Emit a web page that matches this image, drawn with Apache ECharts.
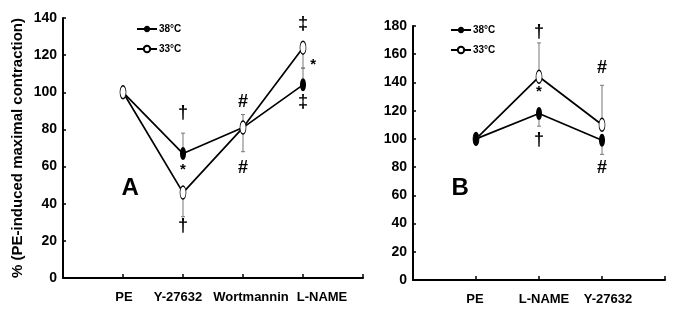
<!DOCTYPE html>
<html>
<head>
<meta charset="utf-8">
<script src="https://cdn.jsdelivr.net/npm/echarts@6/dist/echarts.min.js"></script>
<style>
  html, body { margin: 0; padding: 0; background: #fff; }
  #main { width: 676px; height: 311px; }
</style>
</head>
<body>
<div id="main"></div>
<script>
// panel A
var catsA = ['PE', 'Y-27632', 'Wortmannin', 'L-NAME'];
var hotA = [100, 67, 81, 104];    // 38°C
var coldA = [100, 46, 81, 124];   // 33°C
// [x, mean, tip]
var errA = [[2, 67, 78], [2, 46, 33], [3, 81, 88], [3, 81, 68], [4, 124, 113], [4, 104, 113]];
// [x, y, text]
var notesA = [[2, 89, '†'], [2, 58, '*'], [2, 28, '†'], [3, 95, '#'], [3, 59, '#'],
              [4, 137, '‡'], [4.17, 115, '*'], [4, 95, '‡']];

// panel B
var catsB = ['PE', 'L-NAME', 'Y-27632'];
var hotB = [100, 118, 99];
var coldB = [100, 144, 110];
var errB = [[2, 144, 168], [2, 118, 109], [3, 110, 138], [3, 99, 89]];
var notesB = [[2, 176, '†'], [2, 133, '*'], [2, 99, '†'], [3, 150, '#'], [3, 79, '#']];

var ticksA = [0, 20, 40, 60, 80, 100, 120, 140];
var ticksB = [0, 20, 40, 60, 80, 100, 120, 140, 160, 180];

// label nudges (px) so the category names sit like the original
var shiftA = [1, -5, 8, 19];
var shiftB = [-1, 5, 6];

var font = 'Liberation Sans, Arial, sans-serif';
var ellipse = 'path://M0,-6C1.93,-6 3.5,-3.31 3.5,0C3.5,3.31 1.93,6 0,6C-1.93,6 -3.5,3.31 -3.5,0C-3.5,-3.31 -1.93,-6 0,-6Z';

function pts(vals) {
    return vals.map(function (v, i) { return [i + 1, v]; });
}

function xAxisFor(idx, cats, shifts, max) {
    var rich = {};
    shifts.forEach(function (s, i) {
        rich['s' + i] = {
            fontWeight: 'bold', fontSize: 13, fontFamily: font, color: '#000',
            padding: s > 0 ? [0, 0, 0, 2 * s] : [0, -2 * s, 0, 0]
        };
    });
    return {
        gridIndex: idx, type: 'value', min: 0, max: max, interval: 1,
        axisLine: { lineStyle: { color: '#000', width: 2 } },
        axisTick: { inside: true, length: 4, lineStyle: { color: '#000', width: 1.5 } },
        splitLine: { show: false },
        axisLabel: {
            margin: 13, color: '#000', fontWeight: 'bold', fontSize: 13, fontFamily: font,
            formatter: function (v) { return cats[v - 1] ? '{s' + (v - 1) + '|' + cats[v - 1] + '}' : ''; },
            rich: rich
        }
    };
}

function yAxisFor(idx, ticks, withName) {
    var ax = {
        gridIndex: idx, type: 'value', min: 0, max: ticks[ticks.length - 1], interval: 20,
        axisLine: { show: true, lineStyle: { color: '#000', width: 2 } },
        axisTick: { show: true, inside: true, length: 3, lineStyle: { color: '#000', width: 1.5 } },
        splitLine: { show: false },
        axisLabel: { margin: 6, color: '#000', fontWeight: 'bold', fontSize: 14, fontFamily: font }
    };
    if (withName) {
        ax.name = '% (PE-induced maximal contraction)';
        ax.nameLocation = 'middle';
        ax.nameRotate = 90;
        ax.nameGap = 38;
        ax.nameTextStyle = { color: '#000', fontWeight: 'bold', fontSize: 15, fontFamily: font };
    }
    return ax;
}

function lineSeries(name, idx, vals, filled) {
    return {
        name: name, type: 'line', xAxisIndex: idx, yAxisIndex: idx,
        data: pts(vals), z: 3,
        symbol: ellipse, symbolSize: [6, 13], symbolKeepAspect: false, showSymbol: true,
        lineStyle: { color: '#000', width: 1.7 },
        itemStyle: filled ? { color: '#000' } : { color: '#fff', borderColor: '#000', borderWidth: 1 },
        animation: false
    };
}

function errSeries(idx, data) {
    return {
        type: 'custom', xAxisIndex: idx, yAxisIndex: idx, data: data, z: 2, silent: true,
        renderItem: function (params, api) {
            var a = api.coord([api.value(0), api.value(1)]);
            var b = api.coord([api.value(0), api.value(2)]);
            var st = { stroke: '#777', lineWidth: 1 };
            return {
                type: 'group',
                children: [
                    { type: 'line', shape: { x1: a[0], y1: a[1], x2: b[0], y2: b[1] }, style: st },
                    { type: 'line', shape: { x1: b[0] - 2, y1: b[1], x2: b[0] + 2, y2: b[1] }, style: st }
                ]
            };
        },
        animation: false
    };
}

function noteSeries(idx, data) {
    return {
        type: 'custom', xAxisIndex: idx, yAxisIndex: idx, data: data, z: 4, silent: true,
        renderItem: function (params, api) {
            var p = api.coord([api.value(0), api.value(1)]);
            var t = data[params.dataIndex][2];
            var size = t === '*' ? 15 : (/[A-Z]/.test(t) ? 24 : 18);
            return {
                type: 'text', x: p[0], y: p[1],
                style: { text: t, fill: '#000', font: 'bold ' + size + 'px ' + font, align: 'center', verticalAlign: 'middle' }
            };
        },
        animation: false
    };
}

var legendBase = {
    orient: 'vertical', itemWidth: 20, itemHeight: 8, itemGap: 10,
    data: ['38°C', '33°C'],
    textStyle: { fontSize: 10, fontWeight: 'bold', color: '#000', fontFamily: font, padding: [0, 0, 0, -3] },
    selectedMode: false
};

var option = {
    animation: false,
    backgroundColor: '#fff',
    legend: [
        Object.assign({ left: 131, top: 19 }, legendBase),
        Object.assign({ left: 445, top: 20 }, legendBase)
    ],
    grid: [
        { left: 63, top: 18, width: 300, height: 260 },
        { left: 413, top: 26, width: 252, height: 254 }
    ],
    xAxis: [xAxisFor(0, catsA, shiftA, 5), xAxisFor(1, catsB, shiftB, 4)],
    yAxis: [yAxisFor(0, ticksA, true), yAxisFor(1, ticksB, false)],
    series: [
        errSeries(0, errA),
        lineSeries('38°C', 0, hotA, true),
        lineSeries('33°C', 0, coldA, false),
        noteSeries(0, notesA.concat([[1.12, 48, 'A']])),
        errSeries(1, errB),
        // in panel B the filled markers sit on top
        lineSeries('33°C', 1, coldB, false),
        lineSeries('38°C', 1, hotB, true),
        noteSeries(1, notesB.concat([[0.75, 65, 'B']]))
    ]
};

var myChart = echarts.init(document.getElementById('main'));
myChart.setOption(option);
</script>
</body>
</html>
